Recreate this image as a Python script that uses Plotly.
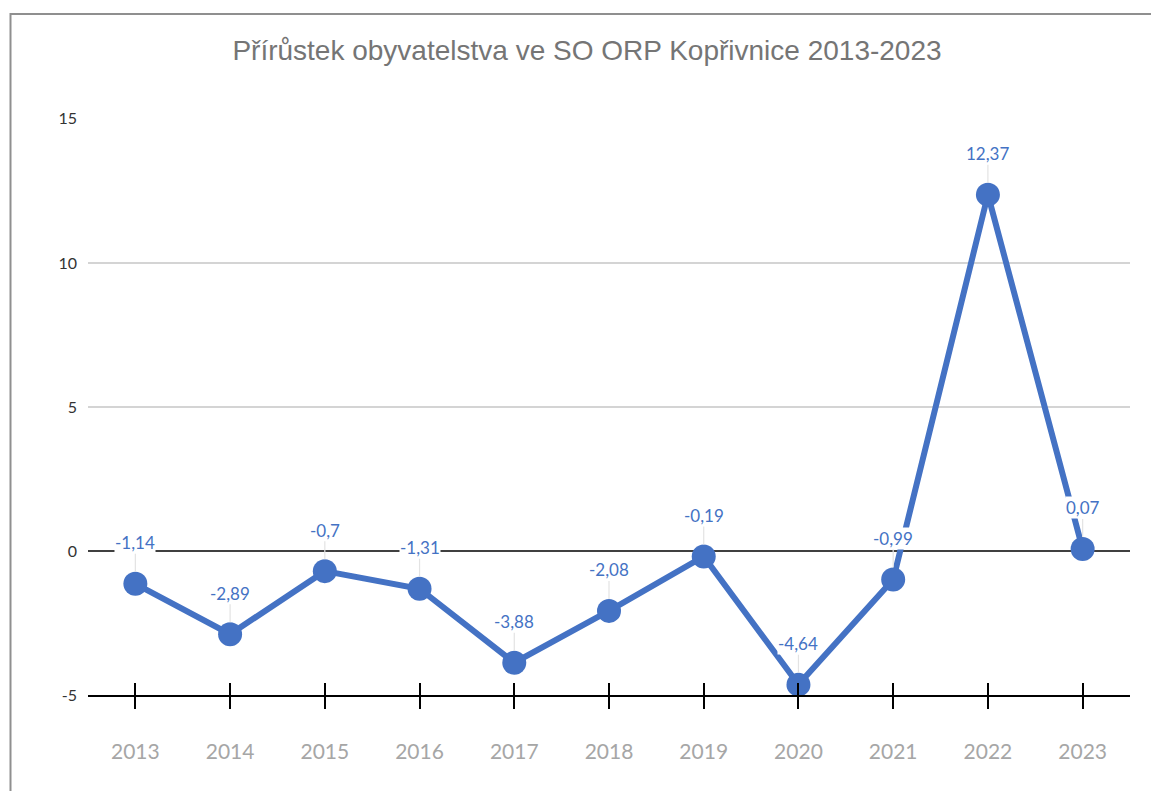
import plotly.graph_objects as go

years = ["2013", "2014", "2015", "2016", "2017", "2018", "2019", "2020", "2021", "2022", "2023"]
values = [-1.14, -2.89, -0.7, -1.31, -3.88, -2.08, -0.19, -4.64, -0.99, 12.37, 0.07]
labels = ["-1,14", "-2,89", "-0,7", "-1,31", "-3,88", "-2,08", "-0,19", "-4,64", "-0,99", "12,37", "0,07"]
y_ticks = [-5, 0, 5, 10, 15]
title = "Přírůstek obyvatelstva ve SO ORP Kopřivnice 2013-2023"

BLUE = "#4472C4"
OFF = 8  # default page body margin
W, H = 1159 - 2 * OFF, 799 - 2 * OFF
L, T = 88 - OFF, 118 - OFF
R = W - (1130 - OFF)
B = H - (695 - OFF)
pw, ph = W - L - R, H - T - B

fig = go.Figure()
fig.add_trace(go.Scatter(
    x=years, y=values, mode="lines+markers",
    line=dict(color=BLUE, width=6),
    marker=dict(color=BLUE, size=24),
    cliponaxis=False, showlegend=False, hoverinfo="x+y",
))
# invisible trace on an overlay axis that draws the inner half of the crossing ticks
fig.add_trace(go.Scatter(x=years, y=values, xaxis="x2", mode="none",
                         showlegend=False, hoverinfo="skip"))

# data labels with leader lines (category axis -> serial index of each year)
for i, (v, t) in enumerate(zip(values, labels)):
    fig.add_annotation(
        xref="x", yref="y",
        x=i, y=v, text=t, showarrow=True, arrowhead=0, arrowwidth=1.2,
        arrowcolor="#e3e3e3", ax=0, ay=-41, standoff=12,
        bgcolor="white", borderpad=0,
        font=dict(family="Lato, Calibri, sans-serif", size=17, color=BLUE),
    )

# outer chart frame (partially outside view)
fig.add_shape(type="rect", xref="paper", yref="paper",
              x0=(10.5 - OFF - L) / pw, x1=(1190 - OFF - L) / pw,
              y0=-(840 - (H - B) - OFF) / ph, y1=((H - B) - (14 - OFF)) / ph,
              line=dict(color="#8f8f8f", width=2), fillcolor="rgba(0,0,0,0)",
              layer="below")

fig.update_layout(
    width=W, height=H,
    margin=dict(l=L, r=R, t=T, b=B),
    plot_bgcolor="white", paper_bgcolor="white",
    title=dict(text=title, x=(587 - OFF) / W, xanchor="center",
               y=1 - (50 - OFF) / H, yanchor="middle",
               font=dict(family="Liberation Sans, Arial, sans-serif", size=28, color="#757575")),
    xaxis=dict(
        type="category", range=[-0.5, 10.5],
        showgrid=False, showline=True, linecolor="black", linewidth=2,
        ticks="outside", ticklen=12, tickwidth=2, tickcolor="black",
        tickfont=dict(family="Lato, Calibri, sans-serif", size=21, color="#a6a6a6"),
        ticklabelstandoff=25,
        anchor="y", zeroline=False,
    ),
    xaxis2=dict(
        type="category", range=[-0.5, 10.5], overlaying="x", side="bottom",
        anchor="y", showgrid=False, showline=False,
        ticks="inside", ticklen=12, tickwidth=2, tickcolor="black",
        showticklabels=False,
    ),
    yaxis=dict(
        range=[-5, 15.03], tickvals=y_ticks, ticktext=[str(v) for v in y_ticks],
        showgrid=True, gridcolor="#d4d4d4", gridwidth=1.5,
        zeroline=True, zerolinecolor="#404040", zerolinewidth=1.5,
        showline=False, ticks="",
        tickfont=dict(family="Lato, Calibri, sans-serif", size=16, color="#333333"),
        ticklabelstandoff=10,
    ),
)

fig.write_html("out.html")
